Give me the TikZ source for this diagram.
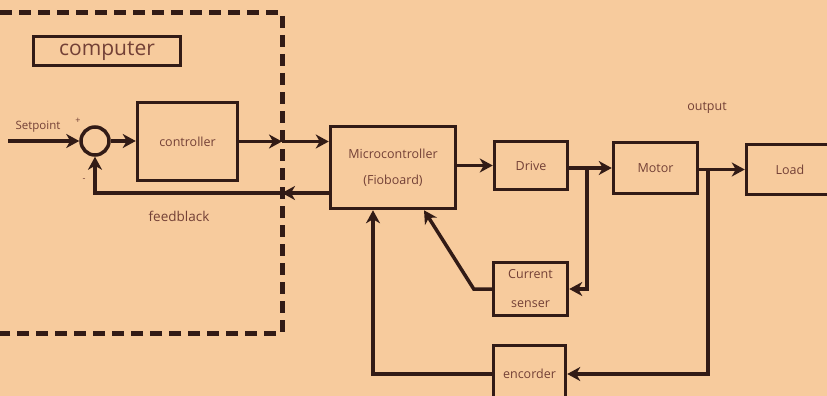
\documentclass[tikz,border=0pt]{standalone}
\usepackage{fontspec}
\setmainfont{Open Sans}
\usetikzlibrary{arrows.meta, positioning}
\definecolor{paper}{RGB}{247,203,157}
\definecolor{ink}{RGB}{50,27,22}
\definecolor{label}{RGB}{115,64,54}

\begin{document}
\begin{tikzpicture}[
  x=1pt, y=-1pt,
  box/.style={draw=ink, line width=3.5pt, align=center, inner sep=2pt, text=label, font=\fontsize{12.5}{15}\selectfont},
  lbl/.style={text=label, inner sep=0pt, font=\fontsize{12.5}{15}\selectfont},
  arrow/.style={-{Stealth[length=13pt, width=14pt, inset=4pt]}, draw=ink, line width=3.5pt},
  border/.style={draw=ink, line width=5pt, dash pattern=on 12pt off 7pt}
]
\useasboundingbox (0,0) rectangle (827,396);
\clip (0,0) rectangle (827,396);
\fill[paper] (0,0) rectangle (827,396);

\node[box, minimum width=147, minimum height=29, font=\fontsize{21}{24}\selectfont] (comp) at (107,51) {computer};
\node[circle, draw=ink, line width=3.5pt, minimum size=28, inner sep=0pt] (sum) at (95,141) {};
\node[box, minimum width=100, minimum height=78] (ctrl) at (187.5,141.5) {controller};
\node[box, minimum width=125, minimum height=82] (micro) at (393,167.5) {Microcontroller\\[11pt](Fioboard)};
\node[box, minimum width=73, minimum height=48] (drive) at (531,165.5) {Drive};
\node[box, minimum width=84, minimum height=51] (motor) at (655.5,168) {Motor};
\node[box, minimum width=87, minimum height=50] (load) at (790,169.5) {Load};
\node[box, minimum width=74, minimum height=53] (sensor) at (530.5,289) {Current\\[14pt]senser};
\node[box, minimum width=72, minimum height=57] (enc) at (529.5,374) {encorder};

\node[lbl, font=\fontsize{11.5}{13}\selectfont] (sptxt) at (38,127) {Setpoint};
\node[lbl, font=\fontsize{9}{10}\selectfont] (plus) at (78,121) {+};
\node[lbl, font=\fontsize{9}{10}\selectfont] (minus) at (84,180) {-};
\node[lbl, font=\fontsize{13.5}{16}\selectfont] (fbtxt) at (179,216) {feedblack};
\node[lbl] (outtxt) at (707,108) {output};

\coordinate (sp) at (8,141);
\coordinate (cross1) at (282,141.5);
\coordinate (cross2) at (282,193);
\coordinate (tap1) at (587,168);
\coordinate (tap2) at (708,169.5);

\draw[border] (0,13) -- (282,13) -- (282,333) -- (0,333);

\draw[arrow] (sp) -- (sum.west);
\draw[arrow] (sum.east) -- (ctrl.west |- sum.east);
\draw[arrow] (ctrl.east) -- (cross1);
\draw[arrow] (cross1) -- (micro.west |- cross1);
\draw[arrow] (micro.west |- cross2) -- (cross2);
\draw[arrow] (cross2) -| (sum.south);
\draw[arrow] (micro.east |- drive) -- (drive.west);
\draw[arrow] (drive.east |- motor) -- (motor.west);
\draw[arrow] (motor.east |- load) -- (load.west);
\draw[arrow] (tap1) |- (sensor.east);
\draw[arrow] (sensor.west) -- ++(-18,0) -- ([xshift=31pt]micro.south);
\draw[arrow] (tap2) |- (enc.east);
\draw[arrow] (enc.west) -| ([xshift=-20pt]micro.south);
\end{tikzpicture}
\end{document}
